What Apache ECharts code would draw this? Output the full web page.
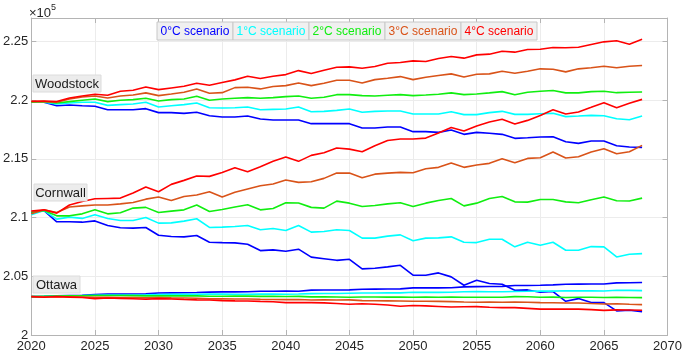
<!DOCTYPE html>
<html>
<head>
<meta charset="utf-8">
<script src="https://cdn.jsdelivr.net/npm/echarts@6/dist/echarts.min.js"></script>
<style>
  html, body { margin: 0; padding: 0; background: #fff; }
  #chart { width: 685px; height: 353px; }
</style>
</head>
<body>
<div id="chart"></div>
<script>
// values are in units of 1e5 (axis shows "x10^5")
const years = [];
for (let y = 2020; y <= 2068; y++) years.push(y);

const scenarios = ["0°C scenario", "1°C scenario", "2°C scenario", "3°C scenario", "4°C scenario"];
const colors = ["#0000ff", "#00ffff", "#10ee10", "#d95319", "#ff0000"];
const yTicks = [2, 2.05, 2.1, 2.15, 2.2, 2.25];

const woodstock0 = [2.1982,2.1982,2.1953,2.1959,2.1953,2.1948,2.1919,2.1919,2.1919,2.1928,2.1894,2.1894,2.1888,2.1897,2.1868,2.1857,2.1857,2.1865,2.1840,2.1831,2.1831,2.1831,2.1800,2.1800,2.1800,2.1800,2.1763,2.1763,2.1772,2.1772,2.1732,2.1732,2.1726,2.1746,2.1709,2.1726,2.1718,2.1709,2.1675,2.1680,2.1686,2.1689,2.1646,2.1632,2.1652,2.1652,2.1612,2.1601,2.1598];
const woodstock1 = [2.1982,2.1982,2.1968,2.1976,2.1982,2.1982,2.1956,2.1962,2.1968,2.1982,2.1942,2.1953,2.1962,2.1976,2.1936,2.1934,2.1936,2.1942,2.1919,2.1922,2.1925,2.1942,2.1902,2.1905,2.1913,2.1925,2.1897,2.1905,2.1908,2.1908,2.1882,2.1882,2.1882,2.1902,2.1877,2.1877,2.1894,2.1905,2.1879,2.1879,2.1885,2.1888,2.1860,2.1865,2.1871,2.1868,2.1842,2.1834,2.1865];
const woodstock2 = [2.1982,2.1988,2.1976,2.1988,2.1999,2.2010,2.1988,2.1999,2.2005,2.2016,2.1993,2.2005,2.2010,2.2033,2.1999,2.2010,2.2016,2.2022,2.2016,2.2022,2.2030,2.2036,2.2016,2.2025,2.2047,2.2047,2.2039,2.2036,2.2042,2.2047,2.2039,2.2044,2.2050,2.2062,2.2047,2.2053,2.2062,2.2073,2.2047,2.2068,2.2076,2.2082,2.2062,2.2062,2.2073,2.2076,2.2064,2.2068,2.2070];
const woodstock3 = [2.1988,2.1988,2.1982,2.2010,2.2027,2.2036,2.2019,2.2036,2.2044,2.2062,2.2039,2.2053,2.2068,2.2096,2.2059,2.2064,2.2107,2.2110,2.2096,2.2116,2.2124,2.2147,2.2124,2.2144,2.2170,2.2170,2.2147,2.2175,2.2187,2.2201,2.2175,2.2195,2.2210,2.2224,2.2198,2.2221,2.2224,2.2247,2.2230,2.2247,2.2267,2.2264,2.2241,2.2267,2.2276,2.2289,2.2276,2.2289,2.2295];
const woodstock4 = [2.1991,2.1993,2.1988,2.2019,2.2036,2.2050,2.2042,2.2076,2.2085,2.2113,2.2090,2.2104,2.2118,2.2144,2.2127,2.2150,2.2173,2.2204,2.2184,2.2204,2.2218,2.2252,2.2227,2.2255,2.2280,2.2284,2.2272,2.2287,2.2315,2.2321,2.2335,2.2329,2.2355,2.2372,2.2358,2.2386,2.2392,2.2417,2.2409,2.2432,2.2434,2.2449,2.2446,2.2451,2.2474,2.2497,2.2506,2.2477,2.2519];

const cornwall0 = [2.1038,2.1060,2.0964,2.0964,2.0961,2.0972,2.0932,2.0913,2.0910,2.0916,2.0850,2.0839,2.0836,2.0847,2.0790,2.0787,2.0785,2.0773,2.0719,2.0725,2.0714,2.0731,2.0663,2.0650,2.0636,2.0645,2.0563,2.0569,2.0580,2.0594,2.0509,2.0509,2.0529,2.0495,2.0424,2.0467,2.0438,2.0432,2.0381,2.0384,2.0364,2.0370,2.0287,2.0310,2.0276,2.0276,2.0205,2.0211,2.0199];
const cornwall1 = [2.1024,2.1060,2.0987,2.1004,2.0993,2.1024,2.0993,2.0975,2.0975,2.1000,2.0953,2.0955,2.0970,2.0990,2.0916,2.0919,2.0924,2.0932,2.0896,2.0907,2.0890,2.0932,2.0876,2.0881,2.0896,2.0890,2.0825,2.0825,2.0842,2.0853,2.0802,2.0825,2.0827,2.0836,2.0790,2.0787,2.0816,2.0816,2.0751,2.0790,2.0765,2.0790,2.0722,2.0722,2.0753,2.0751,2.0665,2.0688,2.0693];
const cornwall2 = [2.1043,2.1060,2.1015,2.1015,2.1032,2.1066,2.1032,2.1041,2.1081,2.1087,2.1043,2.1055,2.1066,2.1107,2.1052,2.1069,2.1090,2.1109,2.1066,2.1078,2.1126,2.1124,2.1087,2.1081,2.1140,2.1123,2.1095,2.1103,2.1117,2.1126,2.1095,2.1123,2.1146,2.1163,2.1100,2.1123,2.1163,2.1180,2.1134,2.1132,2.1154,2.1154,2.1134,2.1126,2.1152,2.1175,2.1143,2.1141,2.1166];
const cornwall3 = [2.1032,2.1066,2.1043,2.1090,2.1100,2.1107,2.1107,2.1117,2.1129,2.1157,2.1175,2.1146,2.1180,2.1192,2.1220,2.1175,2.1215,2.1243,2.1271,2.1286,2.1320,2.1300,2.1305,2.1334,2.1379,2.1379,2.1339,2.1370,2.1379,2.1385,2.1382,2.1416,2.1428,2.1465,2.1428,2.1448,2.1462,2.1501,2.1467,2.1504,2.1510,2.1558,2.1507,2.1518,2.1558,2.1587,2.1544,2.1561,2.1615];
const cornwall4 = [2.1055,2.1066,2.1038,2.1107,2.1137,2.1160,2.1163,2.1166,2.1209,2.1260,2.1220,2.1283,2.1317,2.1354,2.1351,2.1385,2.1425,2.1391,2.1433,2.1479,2.1516,2.1479,2.1530,2.1553,2.1593,2.1583,2.1561,2.1612,2.1657,2.1669,2.1669,2.1677,2.1720,2.1768,2.1737,2.1780,2.1814,2.1837,2.1797,2.1828,2.1870,2.1919,2.1882,2.1900,2.1939,2.1979,2.1936,2.1973,2.2007];

const ottawa0 = [2.0327,2.0329,2.0333,2.0336,2.0338,2.0344,2.0348,2.0348,2.0349,2.0350,2.0358,2.0359,2.0360,2.0362,2.0365,2.0367,2.0367,2.0368,2.0372,2.0373,2.0375,2.0373,2.0382,2.0383,2.0383,2.0384,2.0390,2.0391,2.0392,2.0393,2.0401,2.0401,2.0401,2.0402,2.0410,2.0412,2.0413,2.0414,2.0421,2.0422,2.0424,2.0427,2.0432,2.0433,2.0434,2.0435,2.0444,2.0445,2.0447];
const ottawa1 = [2.0327,2.0329,2.0332,2.0334,2.0335,2.0339,2.0340,2.0341,2.0341,2.0342,2.0345,2.0346,2.0346,2.0347,2.0348,2.0348,2.0347,2.0347,2.0349,2.0348,2.0347,2.0349,2.0352,2.0353,2.0354,2.0356,2.0358,2.0358,2.0359,2.0359,2.0364,2.0363,2.0363,2.0364,2.0368,2.0370,2.0369,2.0369,2.0371,2.0372,2.0375,2.0374,2.0377,2.0376,2.0376,2.0375,2.0381,2.0380,2.0378];
const ottawa2 = [2.0327,2.0329,2.0331,2.0333,2.0334,2.0337,2.0336,2.0336,2.0335,2.0333,2.0334,2.0333,2.0333,2.0333,2.0330,2.0330,2.0331,2.0331,2.0329,2.0330,2.0328,2.0329,2.0325,2.0326,2.0324,2.0322,2.0324,2.0324,2.0323,2.0323,2.0322,2.0323,2.0322,2.0324,2.0321,2.0322,2.0322,2.0321,2.0327,2.0326,2.0322,2.0323,2.0320,2.0321,2.0321,2.0319,2.0321,2.0320,2.0318];
const ottawa3 = [2.0327,2.0326,2.0327,2.0326,2.0324,2.0321,2.0322,2.0320,2.0318,2.0316,2.0318,2.0316,2.0315,2.0313,2.0309,2.0308,2.0307,2.0306,2.0304,2.0303,2.0301,2.0302,2.0298,2.0299,2.0298,2.0299,2.0293,2.0292,2.0291,2.0289,2.0287,2.0288,2.0286,2.0284,2.0281,2.0279,2.0281,2.0279,2.0281,2.0279,2.0276,2.0275,2.0272,2.0273,2.0268,2.0264,2.0266,2.0262,2.0259];
const ottawa4 = [2.0327,2.0322,2.0327,2.0323,2.0319,2.0310,2.0315,2.0312,2.0309,2.0305,2.0310,2.0306,2.0302,2.0299,2.0298,2.0293,2.0291,2.0290,2.0286,2.0283,2.0276,2.0277,2.0276,2.0274,2.0268,2.0262,2.0266,2.0262,2.0256,2.0245,2.0251,2.0248,2.0243,2.0238,2.0240,2.0242,2.0236,2.0233,2.0233,2.0227,2.0220,2.0220,2.0222,2.0220,2.0216,2.0210,2.0214,2.0213,2.0211];

const regions = [
  { name: "Woodstock", data: [woodstock0, woodstock1, woodstock2, woodstock3, woodstock4] },
  { name: "Cornwall", data: [cornwall0, cornwall1, cornwall2, cornwall3, cornwall4] },
  { name: "Ottawa", data: [ottawa0, ottawa1, ottawa2, ottawa3, ottawa4] }
];

const font = "'Liberation Sans', Arial, sans-serif";
const axisGray = "#b4b4b4";
const textColor = "#262626";

const series = [];
regions.forEach(r => {
  r.data.forEach((vals, i) => {
    series.push({
      name: r.name + " " + scenarios[i],
      type: "line",
      showSymbol: false,
      symbol: "none",
      lineStyle: { width: 1.6, color: colors[i] },
      data: vals.map((v, k) => [years[k], v])
    });
  });
});

// legend boxes and place labels
const graphic = [];
const legendLeft = 157, legendTop = 22, boxW = 76, boxH = 18;
scenarios.forEach((s, i) => {
  graphic.push({
    type: "rect",
    shape: { x: legendLeft + i * boxW, y: legendTop, width: boxW, height: boxH },
    style: { fill: "#f0f0f0", stroke: "#c8c8c8", lineWidth: 1 },
    z: 10
  });
  graphic.push({
    type: "text",
    x: legendLeft + i * boxW + boxW / 2, y: legendTop + boxH / 2 + 1,
    style: { text: s, fill: colors[i], font: "12px " + font, textAlign: "center", textVerticalAlign: "middle" },
    z: 11
  });
});
const places = [
  { name: "Woodstock", x: 33, y: 75, w: 68 },
  { name: "Cornwall", x: 34, y: 184, w: 53 },
  { name: "Ottawa", x: 33, y: 276, w: 47 }
];
places.forEach(p => {
  graphic.push({
    type: "rect",
    shape: { x: p.x, y: p.y, width: p.w, height: 17 },
    style: { fill: "#ececec", stroke: "#dcdcdc", lineWidth: 1 },
    z: 10
  });
  graphic.push({
    type: "text",
    x: p.x + p.w / 2, y: p.y + 9,
    style: { text: p.name, fill: "#1a1a1a", font: "13px " + font, textAlign: "center", textVerticalAlign: "middle" },
    z: 11
  });
});
graphic.push({
  type: "text",
  x: 29, y: 3,
  style: {
    text: "{a|×10}{b|5}",
    rich: {
      a: { font: "13px " + font, fill: textColor, padding: [4, 0, 0, 0] },
      b: { font: "9px " + font, fill: textColor, verticalAlign: "top" }
    }
  }
});

const chart = echarts.init(document.getElementById("chart"));
const option = {
  animation: false,
  backgroundColor: "#fff",
  grid: { left: 29, right: 16, top: 18, bottom: 18 },
  xAxis: [
    {
      type: "value", min: 2020, max: 2070, interval: 5,
      axisLine: { lineStyle: { color: axisGray } },
      axisTick: { inside: true, length: 5, lineStyle: { color: axisGray } },
      axisLabel: { color: textColor, fontFamily: font, fontSize: 13, margin: 5, formatter: v => String(v) },
      splitLine: { show: true, lineStyle: { color: "#ececec" } }
    },
    {
      type: "value", min: 2020, max: 2070, interval: 5, position: "top",
      axisLine: { show: true, lineStyle: { color: axisGray } },
      axisTick: { inside: true, length: 5, lineStyle: { color: axisGray } },
      axisLabel: { show: false }, splitLine: { show: false }
    }
  ],
  yAxis: [
    {
      type: "value", min: 2, max: 2.27, interval: 0.05,
      axisLine: { show: true, lineStyle: { color: axisGray } },
      axisTick: { show: true, inside: true, length: 5, lineStyle: { color: axisGray } },
      axisLabel: {
        color: textColor, fontFamily: font, fontSize: 13, margin: 3,
        formatter: v => {
          const t = yTicks.find(k => Math.abs(k - v) < 1e-6);
          return t === undefined ? "" : String(t);
        }
      },
      splitLine: { show: true, lineStyle: { color: "#ececec" } }
    },
    {
      type: "value", min: 2, max: 2.27, interval: 0.05, position: "right",
      axisLine: { show: true, lineStyle: { color: axisGray } },
      axisTick: { show: true, inside: true, length: 5, lineStyle: { color: axisGray } },
      axisLabel: { show: false }, splitLine: { show: false }
    }
  ],
  graphic: graphic,
  series: series
};
chart.setOption(option);
</script>
</body>
</html>
